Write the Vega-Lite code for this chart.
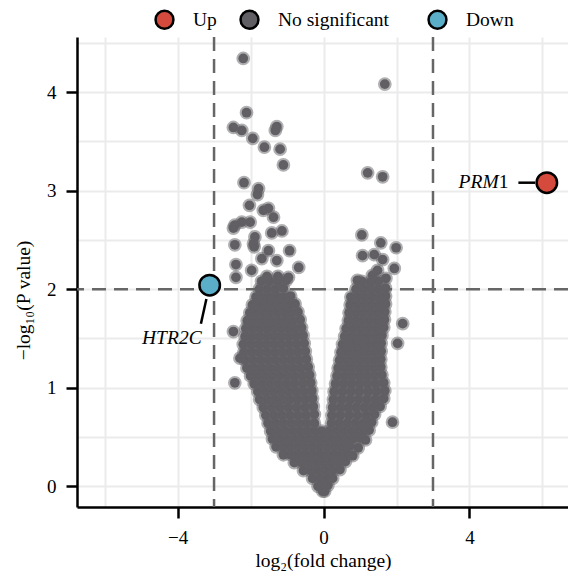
{
  "$schema": "https://vega.github.io/schema/vega-lite/v6.json",
  "autosize": "none",
  "width": 491,
  "height": 470,
  "padding": {"left": 77, "top": 37, "right": 0, "bottom": 67},
  "background": "white",
  "config": {
    "view": {"stroke": null},
    "font": "Liberation Serif",
    "axis": {
      "labelFont": "Liberation Serif", "labelFontSize": 19, "labelColor": "#000000",
      "titleFont": "Liberation Serif", "titleFontSize": 19.5, "titleFontWeight": "normal", "titleColor": "#000000",
      "domainColor": "#000000", "domainWidth": 2.5, "tickColor": "#000000", "tickWidth": 2.5,
      "tickSize": 11, "labelPadding": 10, "gridColor": "#ebebeb", "gridWidth": 2, "grid": true
    }
  },
  "datasets": {
    "thrv": [{"x": -3}, {"x": 3}],
    "thrh": [{"y": 2}],
    "sig": [
      {"x": 6.12, "y": 3.08, "g": "Up"},
      {"x": -3.12, "y": 2.04, "g": "Down"}
    ],
    "seg": [
      {"x": 5.34, "y": 3.08, "x2": 5.8, "y2": 3.08},
      {"x": -3.21, "y": 1.9, "x2": -3.36, "y2": 1.65}
    ],
    "labi": [
      {"x": 4.8, "y": 3.09, "t": "PRM"},
      {"x": -3.34, "y": 1.5, "t": "HTR2C"}
    ],
    "labn": [
      {"x": 5.07, "y": 3.09, "t": "1"}
    ],
    "pts": [
      {"x": -2.20, "y": 4.34}, {"x": 1.68, "y": 4.08}, {"x": -2.11, "y": 3.79}, {"x": -2.47, "y": 3.64},
      {"x": -2.24, "y": 3.61}, {"x": -1.94, "y": 3.53}, {"x": -1.62, "y": 3.44}, {"x": -1.28, "y": 3.65},
      {"x": -1.32, "y": 3.61}, {"x": -1.19, "y": 3.42}, {"x": -1.10, "y": 3.26}, {"x": -2.18, "y": 3.08},
      {"x": -1.78, "y": 3.02}, {"x": -1.81, "y": 2.96}, {"x": -2.03, "y": 2.85}, {"x": -1.65, "y": 2.80},
      {"x": -1.51, "y": 2.82}, {"x": -1.37, "y": 2.73}, {"x": -2.43, "y": 2.65}, {"x": -2.24, "y": 2.68},
      {"x": -2.01, "y": 2.68}, {"x": -2.47, "y": 2.62}, {"x": -1.88, "y": 2.53}, {"x": -1.92, "y": 2.46},
      {"x": -1.90, "y": 2.43}, {"x": -2.43, "y": 2.45}, {"x": -1.42, "y": 2.57}, {"x": -1.14, "y": 2.59},
      {"x": -1.51, "y": 2.39}, {"x": -1.69, "y": 2.31}, {"x": -1.28, "y": 2.29}, {"x": -0.93, "y": 2.39},
      {"x": -2.40, "y": 2.25}, {"x": -1.97, "y": 2.19}, {"x": -0.68, "y": 2.22}, {"x": -2.40, "y": 2.12},
      {"x": -0.96, "y": 2.12},
      {"x": 1.21, "y": 3.18}, {"x": 1.62, "y": 3.14}, {"x": 1.05, "y": 2.55}, {"x": 1.57, "y": 2.47},
      {"x": 1.99, "y": 2.42}, {"x": 1.07, "y": 2.34}, {"x": 1.39, "y": 2.35}, {"x": 1.62, "y": 2.30},
      {"x": 1.94, "y": 2.21}, {"x": 1.48, "y": 2.19}, {"x": 1.71, "y": 2.11}, {"x": 0.93, "y": 2.09},
      {"x": 1.34, "y": 2.14},
      {"x": -2.43, "y": 1.05}, {"x": 2.03, "y": 1.45}, {"x": 2.17, "y": 1.65}, {"x": 1.89, "y": 0.65},
      {"x": -2.47, "y": 1.57}, {"x": -2.29, "y": 1.30},
      {"x": -0.02, "y": -0.05}, {"x": 0.03, "y": -0.05},
      {"x": -0.15, "y": 0.0}, {"x": -0.02, "y": 0.0}, {"x": 0.12, "y": 0.01},
      {"x": -0.3, "y": 0.08}, {"x": -0.1, "y": 0.08}, {"x": 0.1, "y": 0.08}, {"x": 0.25, "y": 0.08},
      {"x": -0.55, "y": 0.16}, {"x": -0.35, "y": 0.16}, {"x": -0.15, "y": 0.16}, {"x": 0.05, "y": 0.16}, {"x": 0.25, "y": 0.16}, {"x": 0.45, "y": 0.17},
      {"x": -0.8, "y": 0.24}, {"x": -0.6, "y": 0.24}, {"x": -0.4, "y": 0.24}, {"x": -0.2, "y": 0.24}, {"x": 0.0, "y": 0.24}, {"x": 0.2, "y": 0.24}, {"x": 0.4, "y": 0.24}, {"x": 0.6, "y": 0.25},
      {"x": -1.1, "y": 0.32}, {"x": -0.9, "y": 0.32}, {"x": -0.7, "y": 0.32}, {"x": -0.5, "y": 0.32}, {"x": -0.3, "y": 0.32}, {"x": -0.1, "y": 0.32}, {"x": 0.1, "y": 0.32}, {"x": 0.3, "y": 0.32}, {"x": 0.5, "y": 0.32}, {"x": 0.65, "y": 0.33}, {"x": 0.8, "y": 0.31},
      {"x": -1.3, "y": 0.4}, {"x": -1.1, "y": 0.4}, {"x": -0.9, "y": 0.4}, {"x": -0.7, "y": 0.4}, {"x": -0.5, "y": 0.4}, {"x": -0.3, "y": 0.4}, {"x": -0.1, "y": 0.4}, {"x": 0.1, "y": 0.4}, {"x": 0.3, "y": 0.4}, {"x": 0.5, "y": 0.4}, {"x": 0.72, "y": 0.41}, {"x": 0.95, "y": 0.39},
      {"x": -1.4, "y": 0.48}, {"x": -1.2, "y": 0.48}, {"x": -1.0, "y": 0.48}, {"x": -0.8, "y": 0.48}, {"x": -0.6, "y": 0.48}, {"x": -0.4, "y": 0.48}, {"x": -0.2, "y": 0.48}, {"x": 0.0, "y": 0.48}, {"x": 0.2, "y": 0.48}, {"x": 0.4, "y": 0.48}, {"x": 0.6, "y": 0.48}, {"x": 0.8, "y": 0.48}, {"x": 1.0, "y": 0.49}, {"x": 1.15, "y": 0.47},
      {"x": -1.45, "y": 0.56}, {"x": -1.25, "y": 0.56}, {"x": -1.05, "y": 0.56}, {"x": -0.85, "y": 0.56}, {"x": -0.65, "y": 0.56}, {"x": -0.45, "y": 0.56}, {"x": -0.25, "y": 0.56}, {"x": -0.05, "y": 0.56}, {"x": 0.15, "y": 0.56}, {"x": 0.35, "y": 0.56}, {"x": 0.55, "y": 0.56}, {"x": 0.75, "y": 0.56}, {"x": 0.95, "y": 0.56}, {"x": 1.1, "y": 0.56}, {"x": 1.25, "y": 0.57},
      {"x": -1.52, "y": 0.64}, {"x": -1.31, "y": 0.64}, {"x": -1.1, "y": 0.64}, {"x": -0.89, "y": 0.64}, {"x": -0.68, "y": 0.64}, {"x": -0.47, "y": 0.64}, {"x": -0.25, "y": 0.64},
      {"x": 0.22, "y": 0.64}, {"x": 0.44, "y": 0.64}, {"x": 0.66, "y": 0.64}, {"x": 0.88, "y": 0.64}, {"x": 1.1, "y": 0.64}, {"x": 1.32, "y": 0.65},
      {"x": -1.58, "y": 0.72}, {"x": -1.36, "y": 0.72}, {"x": -1.14, "y": 0.72}, {"x": -0.92, "y": 0.72}, {"x": -0.7, "y": 0.72}, {"x": -0.48, "y": 0.72}, {"x": -0.25, "y": 0.73},
      {"x": 0.23, "y": 0.72}, {"x": 0.46, "y": 0.72}, {"x": 0.7, "y": 0.72}, {"x": 0.93, "y": 0.72}, {"x": 1.17, "y": 0.72}, {"x": 1.4, "y": 0.73},
      {"x": -1.65, "y": 0.8}, {"x": -1.42, "y": 0.8}, {"x": -1.2, "y": 0.8}, {"x": -0.97, "y": 0.8}, {"x": -0.74, "y": 0.8}, {"x": -0.51, "y": 0.8}, {"x": -0.28, "y": 0.81},
      {"x": 0.25, "y": 0.8}, {"x": 0.47, "y": 0.8}, {"x": 0.68, "y": 0.8}, {"x": 0.9, "y": 0.8}, {"x": 1.12, "y": 0.8}, {"x": 1.33, "y": 0.8}, {"x": 1.55, "y": 0.81},
      {"x": -1.75, "y": 0.88}, {"x": -1.54, "y": 0.88}, {"x": -1.33, "y": 0.88}, {"x": -1.12, "y": 0.88}, {"x": -0.92, "y": 0.88}, {"x": -0.71, "y": 0.88}, {"x": -0.5, "y": 0.88}, {"x": -0.3, "y": 0.89},
      {"x": 0.27, "y": 0.88}, {"x": 0.5, "y": 0.88}, {"x": 0.73, "y": 0.88}, {"x": 0.96, "y": 0.88}, {"x": 1.19, "y": 0.88}, {"x": 1.42, "y": 0.88}, {"x": 1.65, "y": 0.89},
      {"x": -1.8, "y": 0.96}, {"x": -1.59, "y": 0.96}, {"x": -1.38, "y": 0.96}, {"x": -1.17, "y": 0.96}, {"x": -0.96, "y": 0.96}, {"x": -0.75, "y": 0.96}, {"x": -0.54, "y": 0.96}, {"x": -0.32, "y": 0.97},
      {"x": 0.29, "y": 0.96}, {"x": 0.52, "y": 0.96}, {"x": 0.75, "y": 0.96}, {"x": 0.98, "y": 0.96}, {"x": 1.22, "y": 0.96}, {"x": 1.45, "y": 0.96}, {"x": 1.68, "y": 0.97},
      {"x": -1.9, "y": 1.04}, {"x": -1.68, "y": 1.04}, {"x": -1.46, "y": 1.04}, {"x": -1.24, "y": 1.04}, {"x": -1.02, "y": 1.04}, {"x": -0.8, "y": 1.04}, {"x": -0.57, "y": 1.04}, {"x": -0.35, "y": 1.05},
      {"x": 0.33, "y": 1.04}, {"x": 0.55, "y": 1.04}, {"x": 0.77, "y": 1.04}, {"x": 0.99, "y": 1.04}, {"x": 1.21, "y": 1.04}, {"x": 1.43, "y": 1.04}, {"x": 1.65, "y": 1.05},
      {"x": -2.0, "y": 1.12}, {"x": -1.8, "y": 1.12}, {"x": -1.6, "y": 1.12}, {"x": -1.4, "y": 1.12}, {"x": -1.19, "y": 1.12}, {"x": -0.99, "y": 1.12}, {"x": -0.79, "y": 1.12}, {"x": -0.58, "y": 1.12}, {"x": -0.38, "y": 1.13},
      {"x": 0.37, "y": 1.12}, {"x": 0.58, "y": 1.12}, {"x": 0.78, "y": 1.12}, {"x": 0.99, "y": 1.12}, {"x": 1.19, "y": 1.12}, {"x": 1.4, "y": 1.12}, {"x": 1.6, "y": 1.13},
      {"x": -2.1, "y": 1.2}, {"x": -1.89, "y": 1.2}, {"x": -1.68, "y": 1.2}, {"x": -1.47, "y": 1.2}, {"x": -1.26, "y": 1.2}, {"x": -1.05, "y": 1.2}, {"x": -0.84, "y": 1.2}, {"x": -0.63, "y": 1.2}, {"x": -0.42, "y": 1.21},
      {"x": 0.4, "y": 1.2}, {"x": 0.6, "y": 1.2}, {"x": 0.79, "y": 1.2}, {"x": 0.99, "y": 1.2}, {"x": 1.18, "y": 1.2}, {"x": 1.38, "y": 1.2}, {"x": 1.57, "y": 1.21},
      {"x": -2.15, "y": 1.28}, {"x": -1.94, "y": 1.28}, {"x": -1.73, "y": 1.28}, {"x": -1.52, "y": 1.28}, {"x": -1.31, "y": 1.28}, {"x": -1.1, "y": 1.28}, {"x": -0.89, "y": 1.28}, {"x": -0.68, "y": 1.28}, {"x": -0.47, "y": 1.29},
      {"x": 0.44, "y": 1.28}, {"x": 0.63, "y": 1.28}, {"x": 0.82, "y": 1.28}, {"x": 1.0, "y": 1.28}, {"x": 1.19, "y": 1.28}, {"x": 1.38, "y": 1.28}, {"x": 1.57, "y": 1.29},
      {"x": -2.18, "y": 1.36}, {"x": -1.97, "y": 1.36}, {"x": -1.76, "y": 1.36}, {"x": -1.55, "y": 1.36}, {"x": -1.34, "y": 1.36}, {"x": -1.13, "y": 1.36}, {"x": -0.92, "y": 1.36}, {"x": -0.71, "y": 1.36}, {"x": -0.5, "y": 1.37},
      {"x": 0.48, "y": 1.36}, {"x": 0.66, "y": 1.36}, {"x": 0.84, "y": 1.36}, {"x": 1.03, "y": 1.36}, {"x": 1.21, "y": 1.36}, {"x": 1.4, "y": 1.36}, {"x": 1.58, "y": 1.37},
      {"x": -2.2, "y": 1.44}, {"x": -1.99, "y": 1.44}, {"x": -1.78, "y": 1.44}, {"x": -1.57, "y": 1.44}, {"x": -1.36, "y": 1.44}, {"x": -1.16, "y": 1.44}, {"x": -0.95, "y": 1.44}, {"x": -0.74, "y": 1.44}, {"x": -0.53, "y": 1.45},
      {"x": 0.52, "y": 1.44}, {"x": 0.7, "y": 1.44}, {"x": 0.87, "y": 1.44}, {"x": 1.05, "y": 1.44}, {"x": 1.23, "y": 1.44}, {"x": 1.4, "y": 1.44}, {"x": 1.58, "y": 1.45},
      {"x": -2.15, "y": 1.52}, {"x": -1.95, "y": 1.52}, {"x": -1.75, "y": 1.52}, {"x": -1.55, "y": 1.52}, {"x": -1.35, "y": 1.52}, {"x": -1.16, "y": 1.52}, {"x": -0.96, "y": 1.52}, {"x": -0.76, "y": 1.52}, {"x": -0.56, "y": 1.53},
      {"x": 0.58, "y": 1.52}, {"x": 0.78, "y": 1.52}, {"x": 0.99, "y": 1.52}, {"x": 1.19, "y": 1.52}, {"x": 1.4, "y": 1.52}, {"x": 1.6, "y": 1.53},
      {"x": -2.13, "y": 1.6}, {"x": -1.94, "y": 1.6}, {"x": -1.75, "y": 1.6}, {"x": -1.56, "y": 1.6}, {"x": -1.37, "y": 1.6}, {"x": -1.17, "y": 1.6}, {"x": -0.98, "y": 1.6}, {"x": -0.79, "y": 1.6}, {"x": -0.6, "y": 1.61},
      {"x": 0.62, "y": 1.6}, {"x": 0.83, "y": 1.6}, {"x": 1.03, "y": 1.6}, {"x": 1.24, "y": 1.6}, {"x": 1.44, "y": 1.6}, {"x": 1.65, "y": 1.61},
      {"x": -2.09, "y": 1.68}, {"x": -1.88, "y": 1.68}, {"x": -1.67, "y": 1.68}, {"x": -1.47, "y": 1.68}, {"x": -1.26, "y": 1.68}, {"x": -1.05, "y": 1.68}, {"x": -0.85, "y": 1.68}, {"x": -0.64, "y": 1.69},
      {"x": 0.68, "y": 1.68}, {"x": 0.88, "y": 1.68}, {"x": 1.08, "y": 1.68}, {"x": 1.27, "y": 1.68}, {"x": 1.47, "y": 1.68}, {"x": 1.67, "y": 1.69},
      {"x": -2.02, "y": 1.76}, {"x": -1.83, "y": 1.76}, {"x": -1.64, "y": 1.76}, {"x": -1.45, "y": 1.76}, {"x": -1.27, "y": 1.76}, {"x": -1.08, "y": 1.76}, {"x": -0.89, "y": 1.76}, {"x": -0.7, "y": 1.77},
      {"x": 0.7, "y": 1.76}, {"x": 0.9, "y": 1.76}, {"x": 1.09, "y": 1.76}, {"x": 1.29, "y": 1.76}, {"x": 1.48, "y": 1.76}, {"x": 1.68, "y": 1.77},
      {"x": -1.95, "y": 1.84}, {"x": -1.75, "y": 1.84}, {"x": -1.56, "y": 1.84}, {"x": -1.36, "y": 1.84}, {"x": -1.17, "y": 1.84}, {"x": -0.97, "y": 1.84}, {"x": -0.78, "y": 1.85},
      {"x": 0.73, "y": 1.84}, {"x": 0.92, "y": 1.84}, {"x": 1.12, "y": 1.84}, {"x": 1.31, "y": 1.84}, {"x": 1.51, "y": 1.84}, {"x": 1.7, "y": 1.85},
      {"x": -1.85, "y": 1.92}, {"x": -1.66, "y": 1.92}, {"x": -1.47, "y": 1.92}, {"x": -1.28, "y": 1.92}, {"x": -1.09, "y": 1.92}, {"x": -0.9, "y": 1.93},
      {"x": 0.75, "y": 1.92}, {"x": 0.94, "y": 1.92}, {"x": 1.13, "y": 1.92}, {"x": 1.32, "y": 1.92}, {"x": 1.51, "y": 1.92}, {"x": 1.7, "y": 1.93},
      {"x": -1.76, "y": 2.0}, {"x": -1.54, "y": 2.0}, {"x": -1.32, "y": 2.0}, {"x": -1.1, "y": 2.01},
      {"x": 0.89, "y": 2.0}, {"x": 1.09, "y": 2.0}, {"x": 1.3, "y": 2.0}, {"x": 1.5, "y": 2.0}, {"x": 1.7, "y": 2.01},
      {"x": -1.7, "y": 2.08}, {"x": -1.48, "y": 2.08}, {"x": -1.25, "y": 2.08}, {"x": -1.02, "y": 2.09},
      {"x": 1.05, "y": 2.08}, {"x": 1.28, "y": 2.07}, {"x": 1.5, "y": 2.08},
      {"x": -1.55, "y": 2.13}, {"x": -1.25, "y": 2.13}
    ]
  },
  "layer": [
    {
      "data": {"name": "thrv"},
      "mark": {"type": "rule", "color": "#666666", "strokeWidth": 2.5, "strokeDash": [14, 8]},
      "encoding": {
        "x": {"field": "x", "type": "quantitative", "scale": {"domain": [-6.756, 6.7], "nice": false, "zero": false},
              "axis": {"orient": "bottom", "values": [-6, -4, -2, 0, 2, 4, 6],
                       "labelExpr": "abs(datum.value) % 4 == 0 ? datum.label : ''",
                       "tickOpacity": {"condition": {"test": "abs(datum.value) % 4 != 0", "value": 0}, "value": 1},
                       "title": "log₂(fold change)", "titleX": 246, "titleY": 59, "titleBaseline": "alphabetic", "titleAlign": "center"}}
      }
    },
    {
      "data": {"name": "thrh"},
      "mark": {"type": "rule", "color": "#666666", "strokeWidth": 2.5, "strokeDash": [14, 8]},
      "encoding": {
        "y": {"field": "y", "type": "quantitative", "scale": {"domain": [-0.21, 4.558], "nice": false, "zero": false},
              "axis": {"orient": "left", "values": [0, 0.5, 1, 1.5, 2, 2.5, 3, 3.5, 4, 4.5],
                       "labelExpr": "datum.value % 1 == 0 ? format(datum.value, 'd') : ''",
                       "tickOpacity": {"condition": {"test": "datum.value % 1 != 0", "value": 0}, "value": 1},
                       "title": "−log₁₀(P value)", "titleX": -54, "titleY": 263, "titleAngle": 270, "titleBaseline": "middle", "titleAlign": "center"}}
      }
    },
    {
      "mark": {"type": "rule", "color": "#000000", "strokeWidth": 2.5},
      "encoding": {
        "y": {"datum": 4.558, "type": "quantitative", "scale": {"domain": [-0.21, 4.558], "nice": false, "zero": false},
              "axis": {"orient": "left", "values": [0, 0.5, 1, 1.5, 2, 2.5, 3, 3.5, 4, 4.5],
                       "labelExpr": "datum.value % 1 == 0 ? format(datum.value, 'd') : ''",
                       "tickOpacity": {"condition": {"test": "datum.value % 1 != 0", "value": 0}, "value": 1},
                       "title": "−log₁₀(P value)", "titleX": -54, "titleY": 263, "titleAngle": 270, "titleBaseline": "middle", "titleAlign": "center"}}
      }
    },
    {
      "data": {"name": "pts"},
      "mark": {"type": "point", "filled": true, "size": 95, "fill": "#615f63", "fillOpacity": 1, "opacity": 1, "stroke": "#615f63", "strokeOpacity": 0.5, "strokeWidth": 4},
      "encoding": {
        "x": {"field": "x", "type": "quantitative", "scale": {"domain": [-6.756, 6.7], "nice": false, "zero": false},
              "axis": {"orient": "bottom", "values": [-6, -4, -2, 0, 2, 4, 6],
                       "labelExpr": "abs(datum.value) % 4 == 0 ? datum.label : ''",
                       "tickOpacity": {"condition": {"test": "abs(datum.value) % 4 != 0", "value": 0}, "value": 1},
                       "title": "log₂(fold change)", "titleX": 246, "titleY": 59, "titleBaseline": "alphabetic", "titleAlign": "center"}},
        "y": {"field": "y", "type": "quantitative", "scale": {"domain": [-0.21, 4.558], "nice": false, "zero": false},
              "axis": {"orient": "left", "values": [0, 0.5, 1, 1.5, 2, 2.5, 3, 3.5, 4, 4.5],
                       "labelExpr": "datum.value % 1 == 0 ? format(datum.value, 'd') : ''",
                       "tickOpacity": {"condition": {"test": "datum.value % 1 != 0", "value": 0}, "value": 1},
                       "title": "−log₁₀(P value)", "titleX": -54, "titleY": 263, "titleAngle": 270, "titleBaseline": "middle", "titleAlign": "center"}}
      }
    },
    {
      "data": {"name": "seg"},
      "mark": {"type": "rule", "color": "#000000", "strokeWidth": 2.5},
      "encoding": {
        "x": {"field": "x", "type": "quantitative", "scale": {"domain": [-6.756, 6.7], "nice": false, "zero": false},
              "axis": {"orient": "bottom", "values": [-6, -4, -2, 0, 2, 4, 6],
                       "labelExpr": "abs(datum.value) % 4 == 0 ? datum.label : ''",
                       "tickOpacity": {"condition": {"test": "abs(datum.value) % 4 != 0", "value": 0}, "value": 1},
                       "title": "log₂(fold change)", "titleX": 246, "titleY": 59, "titleBaseline": "alphabetic", "titleAlign": "center"}},
        "y": {"field": "y", "type": "quantitative", "scale": {"domain": [-0.21, 4.558], "nice": false, "zero": false},
              "axis": {"orient": "left", "values": [0, 0.5, 1, 1.5, 2, 2.5, 3, 3.5, 4, 4.5],
                       "labelExpr": "datum.value % 1 == 0 ? format(datum.value, 'd') : ''",
                       "tickOpacity": {"condition": {"test": "datum.value % 1 != 0", "value": 0}, "value": 1},
                       "title": "−log₁₀(P value)", "titleX": -54, "titleY": 263, "titleAngle": 270, "titleBaseline": "middle", "titleAlign": "center"}},
        "x2": {"field": "x2"},
        "y2": {"field": "y2"}
      }
    },
    {
      "data": {"name": "sig"},
      "mark": {"type": "point", "filled": true, "size": 420, "stroke": "#000000", "strokeWidth": 2.5, "opacity": 1},
      "encoding": {
        "x": {"field": "x", "type": "quantitative", "scale": {"domain": [-6.756, 6.7], "nice": false, "zero": false},
              "axis": {"orient": "bottom", "values": [-6, -4, -2, 0, 2, 4, 6],
                       "labelExpr": "abs(datum.value) % 4 == 0 ? datum.label : ''",
                       "tickOpacity": {"condition": {"test": "abs(datum.value) % 4 != 0", "value": 0}, "value": 1},
                       "title": "log₂(fold change)", "titleX": 246, "titleY": 59, "titleBaseline": "alphabetic", "titleAlign": "center"}},
        "y": {"field": "y", "type": "quantitative", "scale": {"domain": [-0.21, 4.558], "nice": false, "zero": false},
              "axis": {"orient": "left", "values": [0, 0.5, 1, 1.5, 2, 2.5, 3, 3.5, 4, 4.5],
                       "labelExpr": "datum.value % 1 == 0 ? format(datum.value, 'd') : ''",
                       "tickOpacity": {"condition": {"test": "datum.value % 1 != 0", "value": 0}, "value": 1},
                       "title": "−log₁₀(P value)", "titleX": -54, "titleY": 263, "titleAngle": 270, "titleBaseline": "middle", "titleAlign": "center"}},
        "fill": {"field": "g", "type": "nominal",
                 "scale": {"domain": ["Up", "No significant", "Down"], "range": ["#d44a3c", "#615f63", "#5aaec7"]},
                 "legend": {"orient": "none", "legendX": 77, "legendY": -28, "direction": "horizontal", "title": null,
                            "symbolType": "circle", "symbolSize": 320, "symbolStrokeColor": "#000000", "symbolStrokeWidth": 2.5, "symbolOpacity": 1,
                            "labelFont": "Liberation Serif", "labelFontSize": 19.5, "labelColor": "#000000", "labelOffset": 18,
                            "columnPadding": 18, "padding": 0,
                            "labelExpr": "datum.label == 'No significant' ? 'No significant\u2800' : datum.label"}}
      }
    },
    {
      "data": {"name": "labi"},
      "mark": {"type": "text", "font": "Liberation Serif", "fontStyle": "italic", "fontSize": 19.5, "align": "right", "baseline": "middle", "color": "#000000"},
      "encoding": {
        "x": {"field": "x", "type": "quantitative", "scale": {"domain": [-6.756, 6.7], "nice": false, "zero": false},
              "axis": {"orient": "bottom", "values": [-6, -4, -2, 0, 2, 4, 6],
                       "labelExpr": "abs(datum.value) % 4 == 0 ? datum.label : ''",
                       "tickOpacity": {"condition": {"test": "abs(datum.value) % 4 != 0", "value": 0}, "value": 1},
                       "title": "log₂(fold change)", "titleX": 246, "titleY": 59, "titleBaseline": "alphabetic", "titleAlign": "center"}},
        "y": {"field": "y", "type": "quantitative", "scale": {"domain": [-0.21, 4.558], "nice": false, "zero": false},
              "axis": {"orient": "left", "values": [0, 0.5, 1, 1.5, 2, 2.5, 3, 3.5, 4, 4.5],
                       "labelExpr": "datum.value % 1 == 0 ? format(datum.value, 'd') : ''",
                       "tickOpacity": {"condition": {"test": "datum.value % 1 != 0", "value": 0}, "value": 1},
                       "title": "−log₁₀(P value)", "titleX": -54, "titleY": 263, "titleAngle": 270, "titleBaseline": "middle", "titleAlign": "center"}},
        "text": {"field": "t"}
      }
    },
    {
      "data": {"name": "labn"},
      "mark": {"type": "text", "font": "Liberation Serif", "fontSize": 19.5, "align": "right", "baseline": "middle", "color": "#000000"},
      "encoding": {
        "x": {"field": "x", "type": "quantitative", "scale": {"domain": [-6.756, 6.7], "nice": false, "zero": false},
              "axis": {"orient": "bottom", "values": [-6, -4, -2, 0, 2, 4, 6],
                       "labelExpr": "abs(datum.value) % 4 == 0 ? datum.label : ''",
                       "tickOpacity": {"condition": {"test": "abs(datum.value) % 4 != 0", "value": 0}, "value": 1},
                       "title": "log₂(fold change)", "titleX": 246, "titleY": 59, "titleBaseline": "alphabetic", "titleAlign": "center"}},
        "y": {"field": "y", "type": "quantitative", "scale": {"domain": [-0.21, 4.558], "nice": false, "zero": false},
              "axis": {"orient": "left", "values": [0, 0.5, 1, 1.5, 2, 2.5, 3, 3.5, 4, 4.5],
                       "labelExpr": "datum.value % 1 == 0 ? format(datum.value, 'd') : ''",
                       "tickOpacity": {"condition": {"test": "datum.value % 1 != 0", "value": 0}, "value": 1},
                       "title": "−log₁₀(P value)", "titleX": -54, "titleY": 263, "titleAngle": 270, "titleBaseline": "middle", "titleAlign": "center"}},
        "text": {"field": "t"}
      }
    }
  ]
}
